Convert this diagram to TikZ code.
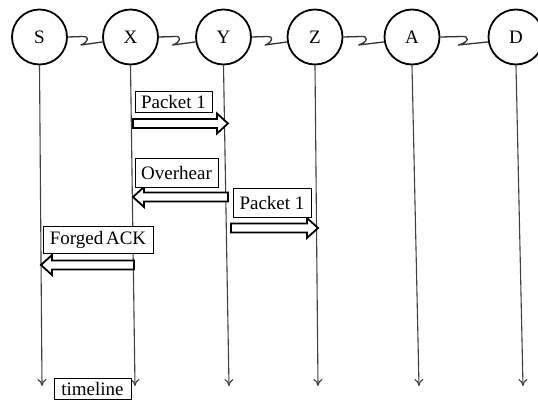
\documentclass[tikz,border=0pt]{standalone}
\usepackage{fontspec}
\setmainfont{Liberation Serif}
\usetikzlibrary{arrows.meta,calc}
\tikzset{
  peer/.style={circle,draw=black,line width=1.8pt,minimum size=55pt,inner sep=0pt,font=\fontsize{19}{22}\selectfont},
  lifeline/.style={draw=black!75,line width=1.1pt,-{To[length=7pt,width=9pt]}},
  squig/.style={draw=black!80,line width=1.3pt,line join=round},
  lbl/.style={draw=black,line width=1pt,inner sep=0pt,fill=white,font=\fontsize{19}{22}\selectfont},
  barrowst/.style={draw=black,line width=1.8pt,line join=miter,fill=white}
}
\newcommand\squiggle[2]{%
  \draw[squig] (#1.east) -- ($(#1.east)!0.45!(#2.west)+(0,-0.5)$)
    .. controls ($(#1.east)!0.62!(#2.west)+(0,-1.2)$) and ($(#1.east)!0.62!(#2.west)+(0,5)$) ..
    ($(#1.east)!0.38!(#2.west)+(0,8)$) -- (#2.190);}
\newcommand\barrow[2]{%
  \path[barrowst] let \p1=(#1), \p2=(#2), \n1={ifthenelse(\x2>\x1,1,-1)} in
    (\x1,\y1+4.5pt) -- (\x2-\n1*11pt,\y1+4.5pt) -- (\x2-\n1*11pt,\y1+10pt) -- (\x2,\y1)
    -- (\x2-\n1*11pt,\y1-10pt) -- (\x2-\n1*11pt,\y1-4.5pt) -- (\x1,\y1-4.5pt) -- cycle;}
\begin{document}
\begin{tikzpicture}[x=1pt,y=-1pt]
\useasboundingbox (0,0) rectangle (538,410);
\fill[white] (0,0) rectangle (538,410);
% peers
\node[peer] (S) at (39.5,37) {S};
\node[peer] (X) at (130.5,37) {X};
\node[peer] (Y) at (223.5,37) {Y};
\node[peer] (Z) at (315,37) {Z};
\node[peer] (A) at (412,37) {A};
\node[peer] (D) at (516,37) {D};
% squiggly links
\squiggle{S}{X}
\squiggle{X}{Y}
\squiggle{Y}{Z}
\squiggle{Z}{A}
\squiggle{A}{D}
% lifelines
\coordinate (Se) at (42,386);
\coordinate (Xe) at (135,386);
\coordinate (Ye) at (229,386);
\coordinate (Ze) at (318,386);
\coordinate (Ae) at (419,386);
\coordinate (De) at (523,386);
\draw[lifeline] (S.south) -- (Se);
\draw[lifeline] (X.south) -- (Xe);
\draw[lifeline] (Y.south) -- (Ye);
\draw[lifeline] (Z.south) -- (Ze);
\draw[lifeline] (A.south) -- (Ae);
\draw[lifeline] (D.south) -- (De);
% message arrows
\coordinate (m1s) at (133,123.5); \coordinate (m1e) at (228,123.5);
\coordinate (m2s) at (228,197);   \coordinate (m2e) at (133,197);
\coordinate (m3s) at (231,228);   \coordinate (m3e) at (318,228);
\coordinate (m4s) at (134,265);   \coordinate (m4e) at (41,265);
\barrow{m1s}{m1e}
\barrow{m2s}{m2e}
\barrow{m3s}{m3e}
\barrow{m4s}{m4e}
% labels
\node[lbl,minimum width=77pt,minimum height=21pt] (pk1) at (173.5,101.5) {Packet 1};
\node[lbl,minimum width=83pt,minimum height=29pt] (ov) at (176.5,172.5) {Overhear};
\node[lbl,minimum width=78pt,minimum height=29pt] (pk2) at (272,202.5) {Packet 1};
\node[lbl,minimum width=110pt,minimum height=27pt] (fa) at (98,239.5) {Forged\hspace{0.15em}ACK};
\node[lbl,minimum width=77pt,minimum height=21pt] (tl) at (92.5,388.5) {timeline};
\end{tikzpicture}
\end{document}
